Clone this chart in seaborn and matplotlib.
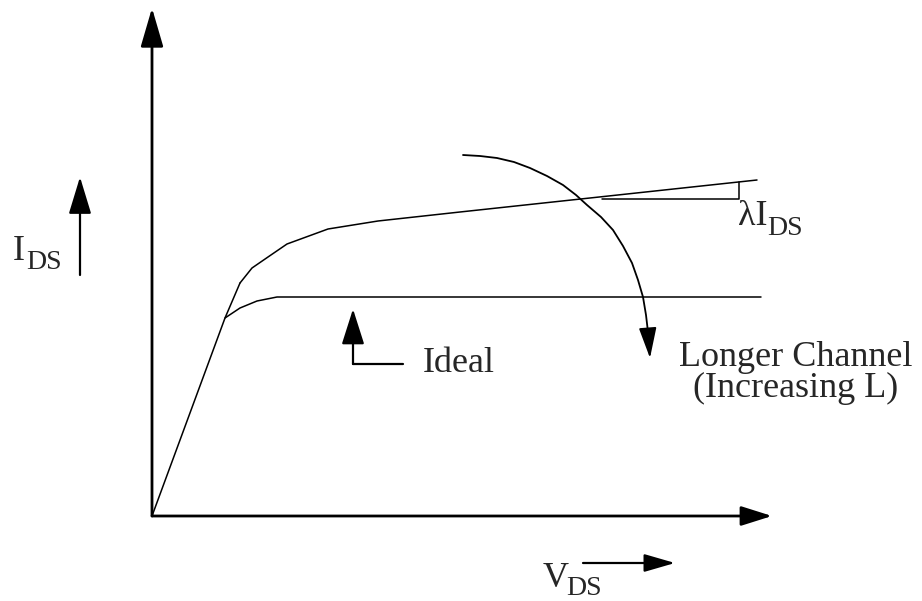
import matplotlib
matplotlib.use("Agg")
import matplotlib.pyplot as plt
import seaborn as sns
from matplotlib.patches import ArrowStyle

# Diagram data (V_DS, I_DS in drawing units, origin at the axes corner)
linear_v = [0, 73, 88]
linear_i = [0, 198, 233]

clm_v = [88, 100, 116, 135, 176, 226, 308, 605]
clm_i = [233, 248, 259, 272, 287, 295, 304, 336]

ideal_v = [73, 88, 105, 125, 609]
ideal_i = [198, 208, 215, 219, 219]

# lambda*I_DS slope triangle
lam_v = [450, 587, 587]
lam_i = [317, 317, 334]

# "Longer channel" curved arrow path
long_v = [311, 328, 345, 362, 378, 395, 411, 424, 435, 449, 461, 471, 480, 486, 491, 494, 496]
long_i = [361, 360, 358, 354, 348, 340, 331, 321, 311, 299, 286, 270, 253, 236, 219, 201, 184]
long_tip = (498, 158)

sns.set_theme(style="white")
plt.rcParams['font.family'] = ['Liberation Serif', 'DejaVu Serif']

fig = plt.figure(figsize=(9.22, 6.01), dpi=100)
ax = fig.add_axes([0, 0, 1, 1])
ax.set_xlim(-152, 770)
ax.set_ylim(-85, 516)
ax.axis('off')


def arrow(tail, tip, hl, hw, lw):
    style = ArrowStyle('-|>', head_length=hl, head_width=hw)
    ax.annotate('', xy=tip, xytext=tail,
                arrowprops=dict(arrowstyle=style, mutation_scale=1, lw=lw,
                                color='black', shrinkA=0, shrinkB=0))


# axes of the diagram
arrow((0, 0), (0, 508), 24, 7, 2)
arrow((0, 0), (620, 0), 19, 6, 2)

# curves
for xs, ys in [(linear_v, linear_i), (clm_v, clm_i), (ideal_v, ideal_i), (lam_v, lam_i)]:
    sns.lineplot(x=xs, y=ys, sort=False, estimator=None, color='black', lw=1.1, ax=ax)

sns.lineplot(x=long_v, y=long_i, sort=False, estimator=None, color='black', lw=1.3, ax=ax)
arrow((long_v[-1], long_i[-1]), long_tip, 19, 5.5, 1.3)

# Ideal pointer
ax.plot([201, 251], [152, 152], color='black', lw=1.6)
arrow((201, 152), (201, 207), 22, 7, 1.6)

# I_DS and V_DS direction arrows
arrow((-72, 241), (-72, 339), 23, 7, 1.6)
arrow((431, -47), (523, -47), 19, 5.5, 1.6)

# labels
main_fs = 26
sub_fs = 20
ax.text(-139, 256, 'I', fontsize=main_fs, ha='left', va='baseline')
ax.text(-126, 247, 'DS', fontsize=sub_fs, ha='left', va='baseline')

ax.text(586, 291, 'λI', fontsize=main_fs, ha='left', va='baseline')
ax.text(615, 281, 'DS', fontsize=sub_fs, ha='left', va='baseline')

ax.text(391, -71, 'V', fontsize=main_fs, ha='left', va='baseline', clip_on=False)
ax.text(414, -79, 'DS', fontsize=sub_fs, ha='left', va='baseline', clip_on=False)

ax.text(271, 144, 'Ideal', fontsize=main_fs, ha='left', va='baseline')
# baseline of the last line sits at 119, first line ends up near 148
ax.text(644, 119, 'Longer Channel\n(Increasing L)', fontsize=main_fs,
        ha='center', va='baseline', multialignment='center', linespacing=0.9)

fig.savefig('out.png', dpi=100)
